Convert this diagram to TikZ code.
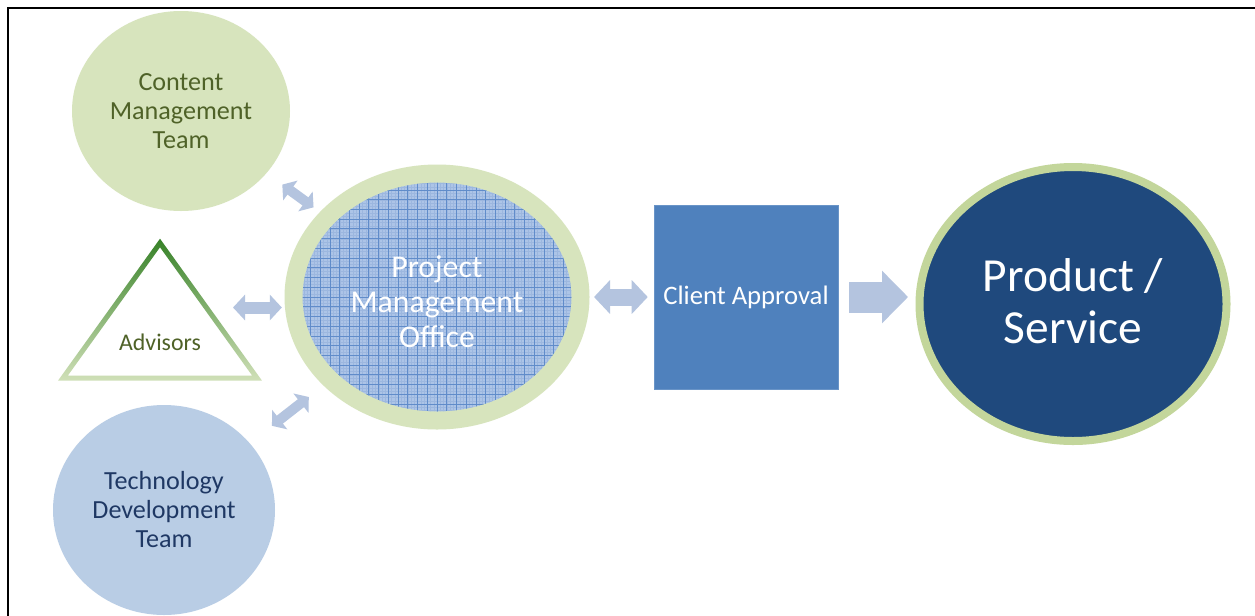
\documentclass[tikz,border=0pt]{standalone}
\usepackage{fontspec}
\setmainfont{Carlito}
\usepackage{tikz}
\usetikzlibrary{%
  arrows.meta,%
  calc,%
  shapes.geometric%
}
\definecolor{cmtgreen}{RGB}{215,228,189}
\definecolor{olivetext}{RGB}{79,98,40}
\definecolor{tdtblue}{RGB}{185,205,229}
\definecolor{navytext}{RGB}{31,56,100}
\definecolor{ringgreen}{RGB}{215,228,189}
\definecolor{pmofill}{RGB}{172,196,231}
\definecolor{pmogrid}{RGB}{96,140,202}
\definecolor{pmofine}{RGB}{156,183,223}
\definecolor{clientblue}{RGB}{79,129,189}
\definecolor{prodblue}{RGB}{31,73,125}
\definecolor{prodring}{RGB}{195,214,155}
\definecolor{arrowblue}{RGB}{180,196,223}
\definecolor{advdark}{RGB}{55,130,40}
\definecolor{advlight}{RGB}{208,224,184}
\tikzset{>=latex,
  team/.style={ellipse,align=center,inner sep=0pt},
  pmobox/.style={ellipse,draw=ringgreen,line width=13.5pt,
    fill=pmofill,minimum width=215.25pt,minimum height=185.25pt,
    path picture={
      \draw[pmofine,line width=0.25pt,step=2.43pt]
      (path picture bounding box.south west) grid
      (path picture bounding box.north east);
      \draw[pmogrid,line width=0.6pt,step=7.3pt]
      (path picture bounding box.south west) grid
      (path picture bounding box.north east);}},
  boxtext/.style={align=center,text=white},
  flowarrow/.style={arrowblue,line cap=butt}
}

\begin{document}
\begin{tikzpicture}[x=0.75pt,y=-0.75pt]
  \useasboundingbox (0,0) rectangle (1255,615);
  \clip (0,0) rectangle (1255,615);
  \fill[white] (0,0) rectangle (1255,615);
  \draw[line width=1.5pt] (8,620) -- (8,8) -- (1260,8);

  % teams around the office
  \node[team,fill=cmtgreen,text=olivetext,minimum width=163.5pt,
  minimum height=150pt,font=\fontsize{19.6}{21.75}\selectfont]
  (cmt) at (181,111) {Content\\Management\\Team};
  \node[team,fill=tdtblue,text=navytext,minimum width=166.5pt,
  minimum height=157.5pt,font=\fontsize{19.6}{21.75}\selectfont]
  (tdt) at (164,510) {Technology\\Development\\Team};
  \shade[top color=advdark,bottom color=advlight,even odd rule]
  (160,238.7) -- (261.9,380.5) -- (58.1,380.5) -- cycle
  (160,247.3) -- (252.1,375.5) -- (67.9,375.5) -- cycle;
  \node[text=olivetext,font=\fontsize{17.9}{20}\selectfont]
  (adv) at (160,342) {Advisors};
  \coordinate (advR) at (233,307.5);

  \node[pmobox,label={[boxtext,yshift=-3.75pt,
    font=\fontsize{23.8}{26.25}\selectfont]center:Project\\Management\\Office}]
  (pmo) at (437,297) {};
  \node[draw=clientblue!85!white,fill=clientblue,minimum size=138pt,
  text=white,font=\fontsize{20}{24}\selectfont]
  (client) at (746,297) {Client Approval};
  \node[ellipse,draw=prodring,line width=6pt,fill=prodblue,
  minimum width=230.25pt,minimum height=205.5pt,
  label={[boxtext,yshift=2.25pt,
    font=\fontsize{35.6}{39}\selectfont]center:Product /\\Service}]
  (prod) at (1073,304) {};

  % connectors
  \draw[flowarrow,line width=7.5pt,
  {Triangle[length=7.5pt,width=18pt]}-{Triangle[length=7.5pt,width=18pt]},
  shorten <=14.5pt,shorten >=6pt] (cmt) -- (pmo);
  \draw[flowarrow,line width=7.5pt,
  {Triangle[length=7.5pt,width=18pt]}-{Triangle[length=7.5pt,width=18pt]},
  shorten <=21pt,shorten >=14pt] (tdt) -- (pmo);
  \draw[flowarrow,line width=9pt,
  {Triangle[length=9pt,width=18.75pt]}-{Triangle[length=9pt,width=18.75pt]},
  shorten >=2pt] (advR) -- (advR -| pmo.west);
  \draw[flowarrow,line width=12.75pt,
  {Triangle[length=12pt,width=24.75pt]}-{Triangle[length=12pt,width=24.75pt]},
  shorten <=3.4pt,shorten >=4.5pt] (pmo.east) -- (client.west);
  \draw[flowarrow,line width=23.25pt,
  -{Triangle[length=19.5pt,width=38.25pt]},
  shorten <=8.25pt,shorten >=5.6pt] (client.east) -- (client.east -| prod.west);
\end{tikzpicture}
\end{document}
